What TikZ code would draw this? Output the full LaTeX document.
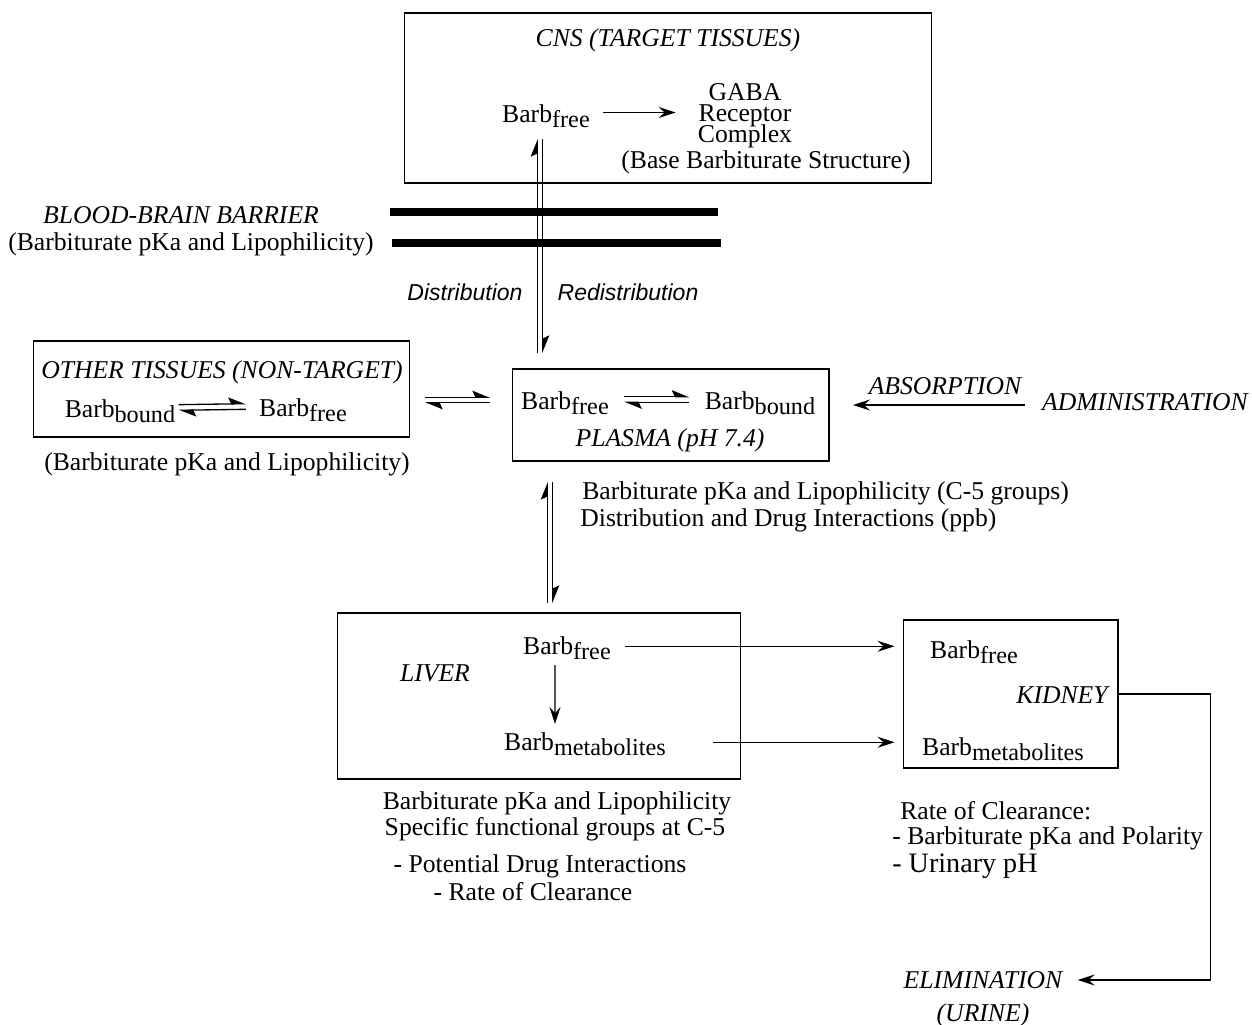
\documentclass[tikz,border=0pt]{standalone}
\usepackage{fontspec}
\setmainfont{Liberation Serif}
\setsansfont{Liberation Sans}
\usepackage{tikz}
\usetikzlibrary{arrows.meta,positioning}
\newcommand{\txt}{\fontsize{14.6}{17}\selectfont}
\newcommand{\stacktxt}{\fontsize{14.6}{12.1}\selectfont\lineskiplimit=-20pt\relax}
\newcommand{\barb}[1]{Barb\raisebox{-3pt}{\fontsize{13.8}{16}\selectfont #1}}
\newcommand{\equil}[2]{%
  \draw[harp] ([yshift=1.6pt]#1) -- ([yshift=1.6pt]#2);
  \draw[harp] ([yshift=-1.6pt]#2) -- ([yshift=-1.6pt]#1);}
\newcommand{\updown}[2]{%
  \draw[harp] ([xshift=-1.6pt]#2) -- ([xshift=-1.6pt]#1);
  \draw[harp] ([xshift=1.6pt]#1) -- ([xshift=1.6pt]#2);}

\begin{document}
\begin{tikzpicture}[x=0.02cm, y=-0.02cm, every node/.style={font=\txt, inner sep=0pt}]
\tikzset{organ/.style={draw, line width=0.6pt}}
\tikzset{arrow/.style={-{Stealth[length=3.4mm, width=2.2mm, inset=1.2mm]}, line width=0.75pt}}
\tikzset{harp/.style={-{Stealth[harpoon, length=3.2mm, width=2.6mm, inset=0.6mm]}, line width=0.75pt}}
\tikzset{barrier/.style={line width=4.8pt}}
\tikzset{lbl/.style={font=\txt\itshape}}
\tikzset{sflbl/.style={font=\fontsize{13.1}{15}\selectfont\sffamily\itshape}}
\useasboundingbox (0,0) rectangle (1252,1025);

% compartments
\node[organ, minimum width=10.56cm, minimum height=3.4cm] (cns) at (668,98) {};
\node[organ, minimum width=7.54cm, minimum height=1.92cm] (other) at (221.5,389) {};
\node[organ, minimum width=6.34cm, minimum height=1.84cm] (plasma) at (670.5,415) {};
\node[organ, minimum width=8.08cm, minimum height=3.32cm] (liver) at (539,696) {};
\node[organ, minimum width=4.3cm, minimum height=2.96cm] (kidney) at (1010.5,694) {};

% CNS
\node[lbl] (cnstitle) at (668,40) {CNS (TARGET TISSUES)};
\node (cfree) at (546,116) {\barb{free}};
\node[align=center, anchor=north, font=\stacktxt] (gaba) at (745,83) {GABA\\Receptor\\Complex};
\node (bstruct) at (766,162) {(Base Barbiturate Structure)};
\draw[arrow] ([xshift=0.26cm,yshift=2pt]cfree.east) -- ([xshift=-0.44cm,yshift=2pt]cfree.east -| gaba.west);

% blood-brain barrier
\node[lbl] (bbb) at (181,215) {BLOOD-BRAIN BARRIER};
\node (bbbnote) at (191,244) {(Barbiturate pKa and Lipophilicity)};
\draw[barrier] (390,212) -- (718,212);
\draw[barrier] (392,243) -- (721,243);
\node[sflbl] (dist) at (465,292) {Distribution};
\node[sflbl] (redist) at (628,292) {Redistribution};
\coordinate (bbbT) at (540,139);
\coordinate (bbbB) at (540,353);
\updown{bbbT}{bbbB}

% other tissues
\node[lbl] (othertitle) at (222,372) {OTHER TISSUES (NON-TARGET)};
\node (obound) at (120,411) {\barb{bound}};
\node (ofree) at (303,410) {\barb{free}};
\coordinate (oeqL) at ([xshift=0.06cm,yshift=2pt]obound.east);
\coordinate (oeqR) at ([xshift=-0.26cm,yshift=2pt]ofree.west);
\equil{oeqL}{oeqR}
\node (onote) at (227,464) {(Barbiturate pKa and Lipophilicity)};
\coordinate (teqL) at (425,400);
\coordinate (teqR) at (490,400);
\equil{teqL}{teqR}

% plasma
\node (pfree) at (565,403) {\barb{free}};
\node (pbound) at (760,403) {\barb{bound}};
\node[lbl] (ptitle) at (670,440) {PLASMA (pH 7.4)};
\coordinate (peqL) at ([xshift=0.3cm,yshift=2pt]pfree.east);
\coordinate (peqR) at ([xshift=-0.3cm,yshift=2pt]pbound.west);
\equil{peqL}{peqR}

% absorption
\node[lbl] (absorb) at (945,386) {ABSORPTION};
\node[lbl] (admin) at (1145,402) {ADMINISTRATION};
\coordinate (absS) at (1025,405);
\coordinate (absE) at (853,405);
\draw[arrow] (absS) -- (absE);

% plasma to liver
\node[anchor=west] (pnote1) at (582,493) {Barbiturate pKa and Lipophilicity (C-5 groups)};
\node[anchor=west] (pnote2) at (580,520) {Distribution and Drug Interactions (ppb)};
\coordinate (plT) at (550,482);
\coordinate (plB) at (550,603);
\updown{plT}{plB}

% liver
\node (lfree) at (567,648) {\barb{free}};
\node[lbl] (livertitle) at (435,673) {LIVER};
\node (lmet) at (585,744) {\barb{metabolites}};
\draw[arrow] ([xshift=-0.24cm,yshift=-0.1cm]lfree.south) -- ([xshift=-0.6cm,yshift=0.16cm]lmet.north);
\node (lnote1) at (557,803) {Barbiturate pKa and Lipophilicity};
\node (lnote2) at (555,829) {Specific functional groups at C-5};
\node (lnote3) at (540,866) {- Potential Drug Interactions};
\node (lnote4) at (533,892) {- Rate of Clearance};

% kidney
\node (kfree) at (974,652) {\barb{free}};
\node[lbl] (kidneytitle) at (1062,695) {KIDNEY};
\node (kmet) at (1003,749) {\barb{metabolites}};
\draw[arrow] ([xshift=0.28cm,yshift=1pt]lfree.east) -- ([xshift=-0.16cm,yshift=1pt]lfree.east -| kidney.west);
\draw[arrow] ([xshift=0.94cm,yshift=1pt]lmet.east) -- ([xshift=-0.16cm,yshift=1pt]lmet.east -| kidney.west);
\node[anchor=west] (knote1) at (900,811) {Rate of Clearance:};
\node[anchor=west] (knote2) at (892,838) {- Barbiturate pKa and Polarity};
\node[anchor=west, font=\fontsize{16}{18}\selectfont] (knote3) at (892,866) {- Urinary pH};

% elimination
\node[lbl] (elim) at (983,980) {ELIMINATION};
\node[lbl, below=0.28cm of elim] (urine) {(URINE)};
\draw[arrow] (kidney.east) -- ++(92,0) |- ([xshift=0.3cm]elim.east);
\end{tikzpicture}
\end{document}
